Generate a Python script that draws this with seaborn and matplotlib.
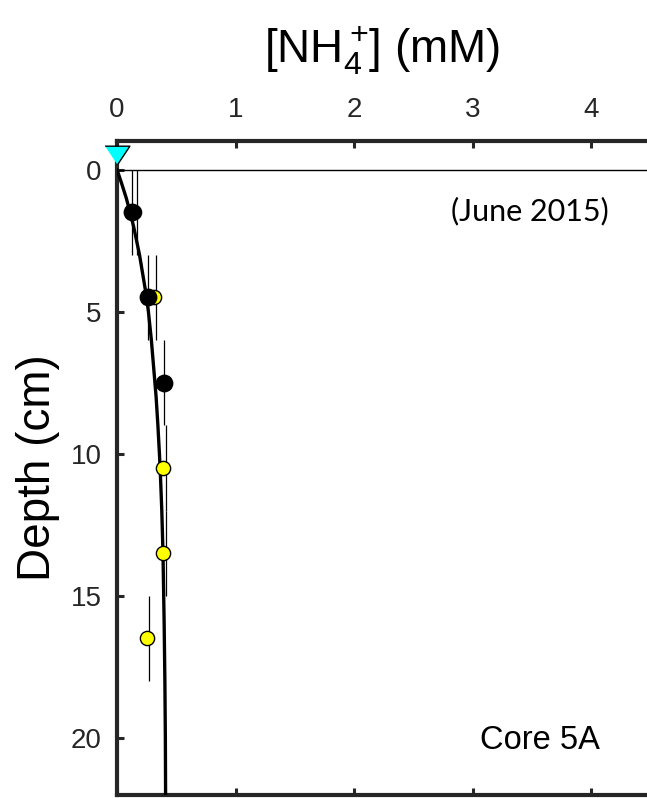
import matplotlib
matplotlib.use("Agg")
import matplotlib.pyplot as plt
import seaborn as sns
import numpy as np
import pandas as pd

# ---- data ----
black_x = [0.123, 0.26, 0.40]
black_depth = [1.5, 4.5, 7.5]
black_err = [1.5, 1.5, 1.5]

yellow_x = [0.145, 0.31, 0.39, 0.39, 0.25]
yellow_depth = [1.5, 4.5, 10.5, 13.5, 16.5]
yellow_err = [1.5, 1.5, 1.5, 1.5, 1.5]

model_depth = [0, 0.5, 1, 1.5, 2, 3, 4, 4.5, 5, 6, 7, 7.5, 8, 9, 10, 10.5, 12, 13.5, 14, 16, 18, 20, 22]
model_x = [0.0, 0.04, 0.078, 0.11, 0.14, 0.19, 0.23, 0.25, 0.265, 0.29, 0.31, 0.32, 0.33, 0.345, 0.358, 0.364, 0.378, 0.388, 0.39, 0.398, 0.404, 0.408, 0.41]

swi_x = [0.0]
swi_depth = [-0.5]

x_ticks = [0, 1, 2, 3, 4]
y_ticks = [0, 5, 10, 15, 20]

sns.set_theme(style="white")
plt.rcParams['font.family'] = ['Liberation Sans', 'DejaVu Sans']
plt.rcParams['mathtext.fontset'] = 'custom'
plt.rcParams['mathtext.rm'] = 'Liberation Sans'

dark = '#262626'
fig = plt.figure(figsize=(6.47, 7.98), dpi=100)
ax = fig.add_axes([0.1808, 0.004, 0.8192, 0.8192])

# depth-zero line
ax.axhline(0, color='black', lw=1.0, zorder=1)

# error bars (depth intervals)
ax.errorbar(black_x, black_depth, yerr=black_err, fmt='none', ecolor='black', elinewidth=0.9, capsize=0, zorder=2)
ax.errorbar([v + 0.02 for v in yellow_x], yellow_depth, yerr=yellow_err, fmt='none', ecolor='black', elinewidth=0.9, capsize=0, zorder=2)

# model curve
sns.lineplot(x=model_x, y=model_depth, sort=False, estimator=None, color='black', lw=2.4, ax=ax, zorder=3)

# data points
sns.scatterplot(x=yellow_x, y=yellow_depth, color='#FFFF00', edgecolor='black', linewidth=1.0, s=105, ax=ax, zorder=4)
sns.scatterplot(x=black_x, y=black_depth, color='black', edgecolor='black', linewidth=1.0, s=140, ax=ax, zorder=5)

# sediment-water interface marker
tri = [(-1, 0.75), (1, 0.75), (0, -0.75)]
sns.scatterplot(x=swi_x, y=swi_depth, marker=tri, color='#00FFFF', edgecolor='black', linewidth=1.0, s=320, ax=ax, zorder=6, clip_on=False)

ax.set_xlim(0, 4.47)
ax.set_ylim(22, -1)
ax.set_xticks(x_ticks)
ax.set_yticks(y_ticks)
ax.xaxis.tick_top()
ax.xaxis.set_label_position('top')
ax.tick_params(direction='in', length=5, width=2.2, colors=dark, labelsize=20, pad=11)
ax.tick_params(axis='x', pad=13)
for side in ['left', 'top', 'bottom']:
    ax.spines[side].set_linewidth(3)
    ax.spines[side].set_color(dark)
ax.spines['right'].set_visible(False)
ax.tick_params(axis='x', bottom=True, top=True, labelbottom=False, labeltop=True)
ax.tick_params(axis='y', left=True, right=False)

ax.set_xlabel(r'$\mathregular{[NH_4^+\!]}$ (mM)', fontsize=33, labelpad=25, color='black')
ax.set_ylabel('Depth (cm)', fontsize=33, labelpad=8, color='black')

ax.text(4.15, 1.45, '(June 2015)', fontsize=22, family=['Lato', 'DejaVu Sans'], ha='right', va='center', color='black')
ax.text(4.07, 20.1, 'Core 5A', fontsize=23.5, ha='right', va='center', color='black')

fig.savefig('out.png', dpi=100)
